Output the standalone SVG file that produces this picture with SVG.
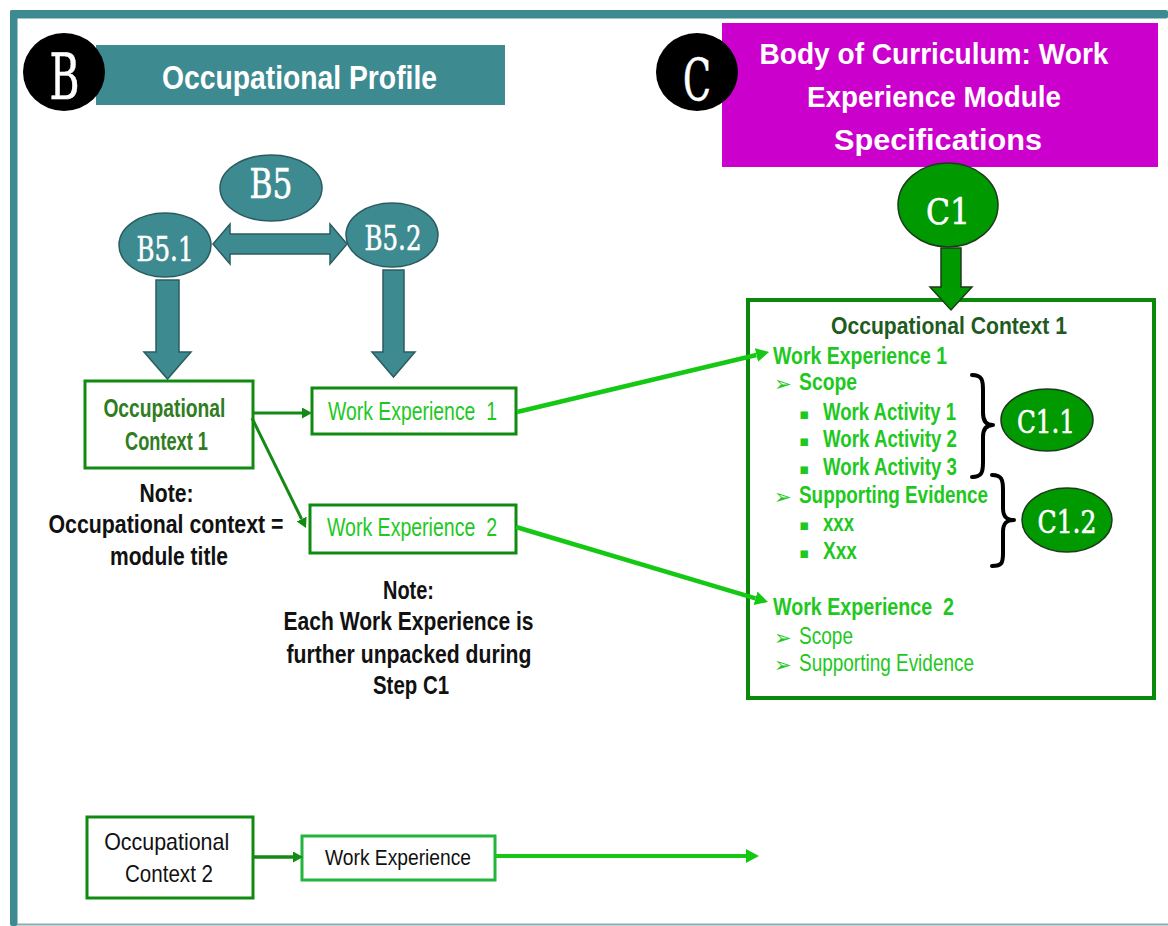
<svg xmlns="http://www.w3.org/2000/svg" width="1168" height="926" viewBox="0 0 1168 926">
  <style>
    .sans { font-family: "Liberation Sans", Arial, sans-serif; }
    .slab { font-family: "DejaVu Serif", "Liberation Serif", serif; fill: #ffffff; stroke: #ffffff; stroke-width: 0.6; text-anchor: middle; }
    .b { font-weight: bold; }
    .mid { text-anchor: middle; }
    .teal { fill: #3d8b91; stroke: #2a5c60; stroke-width: 1.5; }
    .greenEll { fill: #009a00; stroke: #1c3a1c; stroke-width: 1.5; }
    .box { fill: #ffffff; stroke: #118a11; stroke-width: 3; }
    .dk { stroke: #138a13; fill: none; }
    .br { stroke: #14c814; fill: none; }
    .lime { fill: #1ec81e; }
    .ink { fill: #111111; }
    .brace { fill: none; stroke: #000000; stroke-width: 4; stroke-linecap: round; stroke-linejoin: round; }
    .dot { font-family: "DejaVu Sans", sans-serif; fill: #1ec81e; }
  </style>
  <defs>
    <marker id="headDk" markerUnits="userSpaceOnUse" markerWidth="10" markerHeight="12" refX="0" refY="5.5" orient="auto">
      <path d="M0,0 L10,5.5 L0,11 Z" fill="#138a13"/>
    </marker>
    <marker id="headBr" markerUnits="userSpaceOnUse" markerWidth="14" markerHeight="16" refX="0" refY="7" orient="auto">
      <path d="M0,0 L13,7 L0,14 Z" fill="#14c814"/>
    </marker>
  </defs>

  <!-- frame -->
  <g id="frame">
    <rect x="10" y="10" width="1158" height="8.5" rx="2" fill="#3d8b91"/>
    <rect x="10" y="10" width="7.5" height="916" rx="2" fill="#3d8b91"/>
    <line x1="17" y1="924.5" x2="1168" y2="924.5" stroke="#86aeae" stroke-width="2"/>
  </g>

  <!-- section B header -->
  <g id="headerB">
    <rect x="96" y="45" width="409" height="60" fill="#3d8b91"/>
    <text class="sans b mid" x="299.5" y="89" font-size="33" fill="#ffffff" textLength="275" lengthAdjust="spacingAndGlyphs">Occupational Profile</text>
    <ellipse cx="64" cy="72" rx="41" ry="39" fill="#000000"/>
    <text class="slab" x="64.5" y="99" font-size="63" textLength="30" lengthAdjust="spacingAndGlyphs">B</text>
  </g>

  <!-- section C header -->
  <g id="headerC">
    <rect x="722" y="23" width="436" height="144" fill="#cc00cc"/>
    <text class="sans b mid" font-size="29" fill="#ffffff">
      <tspan x="938" y="64" textLength="349" lengthAdjust="spacingAndGlyphs">Body of Curriculum: Work</tspan>
      <tspan x="938" y="107" textLength="254" lengthAdjust="spacingAndGlyphs">Experience Module</tspan>
      <tspan x="938" y="150" textLength="208" lengthAdjust="spacingAndGlyphs">Specifications</tspan>
    </text>
    <ellipse cx="697" cy="72" rx="41" ry="39" fill="#000000"/>
    <text class="slab" x="697" y="100" font-size="58" textLength="28" lengthAdjust="spacingAndGlyphs">C</text>
  </g>

  <!-- B5 cluster -->
  <g id="B5">
    <ellipse class="teal" cx="271" cy="188" rx="51" ry="33"/>
    <text class="slab" x="271" y="198" font-size="41" textLength="43" lengthAdjust="spacingAndGlyphs">B5</text>
  </g>
  <g id="B5-1">
    <ellipse class="teal" cx="165" cy="245" rx="46" ry="32"/>
    <text class="slab" x="165" y="261" font-size="33" textLength="57" lengthAdjust="spacingAndGlyphs">B5.1</text>
  </g>
  <g id="B5-2">
    <ellipse class="teal" cx="392" cy="235" rx="46" ry="32"/>
    <text class="slab" x="393" y="250" font-size="33" textLength="57" lengthAdjust="spacingAndGlyphs">B5.2</text>
  </g>

  <!-- left-hand nodes -->
  <g id="occContext1">
    <rect class="box" x="85" y="381" width="168" height="87"/>
    <text class="sans b mid" font-size="26" fill="#2f7d1f">
      <tspan x="168" y="417" textLength="122" lengthAdjust="spacingAndGlyphs">Occupational</tspan>
      <tspan x="166.5" y="450" textLength="83" lengthAdjust="spacingAndGlyphs">Context 1</tspan>
    </text>
  </g>
  <g id="noteModule">
    <text class="sans b mid ink" font-size="25">
      <tspan x="170" y="502" textLength="54" lengthAdjust="spacingAndGlyphs">Note:</tspan>
      <tspan x="169.5" y="533" textLength="235" lengthAdjust="spacingAndGlyphs">Occupational context =</tspan>
      <tspan x="169" y="565" textLength="118" lengthAdjust="spacingAndGlyphs">module title</tspan>
    </text>
  </g>
  <g id="workExp1">
    <rect class="box" x="312" y="388" width="204" height="46"/>
    <text class="sans lime" x="328" y="420" font-size="26" xml:space="preserve" textLength="169" lengthAdjust="spacingAndGlyphs">Work Experience  1</text>
  </g>
  <g id="workExp2">
    <rect class="box" x="310" y="505" width="206" height="48"/>
    <text class="sans lime" x="327" y="536" font-size="26" xml:space="preserve" textLength="170" lengthAdjust="spacingAndGlyphs">Work Experience  2</text>
  </g>
  <g id="noteUnpack">
    <text class="sans b mid ink" font-size="25">
      <tspan x="412" y="599" textLength="51" lengthAdjust="spacingAndGlyphs">Note:</tspan>
      <tspan x="412" y="630" textLength="250" lengthAdjust="spacingAndGlyphs">Each Work Experience is</tspan>
      <tspan x="412.5" y="663" textLength="245" lengthAdjust="spacingAndGlyphs">further unpacked during</tspan>
      <tspan x="411" y="694" textLength="76" lengthAdjust="spacingAndGlyphs">Step C1</tspan>
    </text>
  </g>
  <g id="occContext2">
    <rect class="box" x="87" y="817" width="166" height="81"/>
    <text class="sans mid ink" font-size="24">
      <tspan x="170" y="850" textLength="125" lengthAdjust="spacingAndGlyphs">Occupational</tspan>
      <tspan x="169" y="882" textLength="88" lengthAdjust="spacingAndGlyphs">Context 2</tspan>
    </text>
  </g>
  <g id="workExp">
    <rect x="302" y="836" width="193" height="44" fill="#ffffff" stroke="#22b43c" stroke-width="3"/>
    <text class="sans mid ink" x="398" y="865" font-size="22" textLength="146" lengthAdjust="spacingAndGlyphs">Work Experience</text>
  </g>

  <!-- C1 node -->
  <g id="C1">
    <ellipse class="greenEll" cx="948" cy="205" rx="50" ry="42"/>
    <text class="slab" x="948" y="224" font-size="36" textLength="44" lengthAdjust="spacingAndGlyphs">C1</text>
  </g>

  <!-- module specification panel -->
  <g id="moduleSpec">
    <rect x="748" y="300" width="406" height="398" fill="#ffffff" stroke="#0a8a0a" stroke-width="4"/>
    <text class="sans b mid" x="949" y="334" font-size="24" fill="#1f5a1f" textLength="236" lengthAdjust="spacingAndGlyphs">Occupational Context 1</text>
    <g class="sans b lime" font-size="24">
      <text x="773" y="364" textLength="174" lengthAdjust="spacingAndGlyphs">Work Experience 1</text>
      <text x="799" y="390" textLength="58" lengthAdjust="spacingAndGlyphs">Scope</text>
      <text x="823" y="420" textLength="133" lengthAdjust="spacingAndGlyphs">Work Activity 1</text>
      <text x="823" y="447" textLength="134" lengthAdjust="spacingAndGlyphs">Work Activity 2</text>
      <text x="823" y="475" textLength="134" lengthAdjust="spacingAndGlyphs">Work Activity 3</text>
      <text x="799" y="503" textLength="189" lengthAdjust="spacingAndGlyphs">Supporting Evidence</text>
      <text x="823" y="531" textLength="31" lengthAdjust="spacingAndGlyphs">xxx</text>
      <text x="823" y="559" textLength="34" lengthAdjust="spacingAndGlyphs">Xxx</text>
      <text x="773" y="615" xml:space="preserve" textLength="181" lengthAdjust="spacingAndGlyphs">Work Experience  2</text>
    </g>
    <g class="sans lime" font-size="24">
      <text x="799" y="644" textLength="54" lengthAdjust="spacingAndGlyphs">Scope</text>
      <text x="799" y="671" textLength="175" lengthAdjust="spacingAndGlyphs">Supporting Evidence</text>
    </g>
    <g class="dot" font-size="21">
      <text x="774" y="391">➢</text>
      <text x="774" y="504">➢</text>
      <text x="774" y="645">➢</text>
      <text x="774" y="672">➢</text>
    </g>
    <g class="dot" font-size="15">
      <text x="799" y="419">▪</text>
      <text x="799" y="446">▪</text>
      <text x="799" y="474">▪</text>
      <text x="799" y="530">▪</text>
      <text x="799" y="558">▪</text>
    </g>
    <path class="brace" d="M972,375 C982,375 983,380 983,390 L983,413 C983,421 986,425 993,425 C986,425 983,429 983,437 L983,462 C983,472 982,477 972,477"/>
    <path class="brace" d="M992,475 C1002,475 1003,480 1003,490 L1003,508 C1003,516 1006,520 1014,520 C1006,520 1003,524 1003,532 L1003,553 C1003,563 1002,566 992,566"/>
  </g>
  <g id="C1-1">
    <ellipse class="greenEll" cx="1047" cy="420" rx="46" ry="31"/>
    <text class="slab" x="1046" y="433" font-size="32" textLength="58" lengthAdjust="spacingAndGlyphs">C1.1</text>
  </g>
  <g id="C1-2">
    <ellipse class="greenEll" cx="1067" cy="520" rx="45" ry="32"/>
    <text class="slab" x="1067" y="533" font-size="32" textLength="59" lengthAdjust="spacingAndGlyphs">C1.2</text>
  </g>

  <!-- connectors -->
  <g id="connectors">
    <path class="teal" d="M213,244 L230,224 L230,234 L330,234 L330,224 L347,244 L330,264 L330,254 L230,254 L230,264 Z"/>
    <path class="teal" d="M156,280 H179 V352 H191 L167.5,379 L144,352 H156 Z"/>
    <path class="teal" d="M383,270 H404 V352 H415 L393.5,377 L372,352 H383 Z"/>
    <path class="greenEll" d="M941,248 H961 V287 H972 L951,310 L930,287 H941 Z"/>

    <line class="dk" x1="253" y1="413" x2="302" y2="413" stroke-width="3" marker-end="url(#headDk)"/>
    <line class="dk" x1="252" y1="418" x2="301.6" y2="519" stroke-width="3" marker-end="url(#headDk)"/>
    <line class="br" x1="517" y1="412" x2="756.4" y2="355" stroke-width="4.5" marker-end="url(#headBr)"/>
    <line class="br" x1="516" y1="527" x2="755.5" y2="598.3" stroke-width="4.5" marker-end="url(#headBr)"/>

    <line class="dk" x1="253" y1="857" x2="293" y2="857" stroke-width="3.5" marker-end="url(#headDk)"/>
    <line class="br" x1="495" y1="856" x2="746" y2="856" stroke-width="4" marker-end="url(#headBr)"/>
  </g>
</svg>
